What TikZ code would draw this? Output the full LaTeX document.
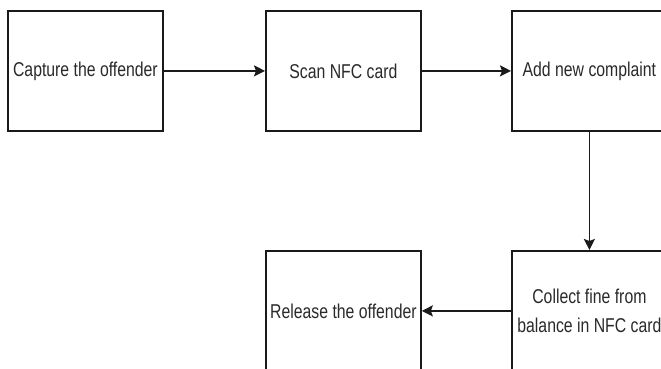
\documentclass[tikz,border=0pt]{standalone}
\usepackage{fontspec}
\setmainfont[FakeStretch=0.79]{Liberation Sans}
\usetikzlibrary{arrows.meta}
\definecolor{edge}{HTML}{1A1A1A}
\definecolor{ink}{HTML}{2A2A2A}
\tikzset{
  stepbox/.style={draw=edge, line width=1.8pt, fill=white, minimum width=155pt,
    minimum height=120pt, anchor=north west, inner sep=0pt, align=center,
    text=ink, font=\fontsize{20}{29}\selectfont},
  flow/.style={draw=edge, line width=1.8pt, -{Stealth[length=11pt,width=11pt,inset=2pt]}}
}
\begin{document}
\begin{tikzpicture}[x=1pt,y=-1pt]
  \useasboundingbox (0,0) rectangle (661,369);
  \clip (0,0) rectangle (661,369);
  \fill[white] (0,0) rectangle (661,369);
  % process boxes
  \node[stepbox] (capture) at (7,10) {Capture the offender};
  \node[stepbox] (scan) at (265,10) {Scan NFC card};
  \node[stepbox] (add) at (511,10) {Add new complaint};
  \node[stepbox] (collect) at (511,250) {Collect fine from\\balance in NFC card};
  \node[stepbox] (release) at (265,250) {Release the offender};
  % flow connectors
  \draw[flow] (capture.east) -- (scan.west);
  \draw[flow] (scan.east) -- (add.west);
  \draw[flow] (add.south) -- (collect.north);
  \draw[flow] (collect.west) -- (release.east);
\end{tikzpicture}
\end{document}
